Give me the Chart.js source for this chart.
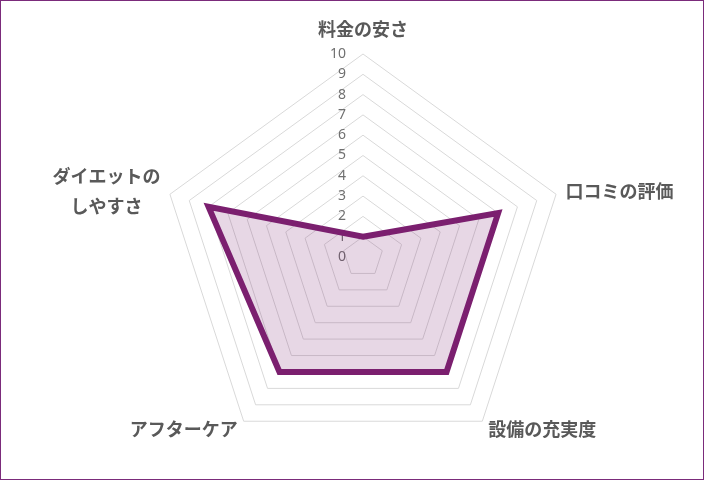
<!DOCTYPE html>
<html>
<head>
<meta charset="utf-8">
<script src="https://cdn.jsdelivr.net/npm/chart.js@4.4.1/dist/chart.umd.min.js"></script>
<style>
  html, body { margin: 0; padding: 0; background: #fff; }
  #frame { width: 704px; height: 480px; box-sizing: border-box; border: 1px solid #7b2b7b; position: relative; }
  #wrap { position: absolute; left: 0; top: 0; width: 702px; height: 478px; }
</style>
</head>
<body>
<div id="frame"><div id="wrap"><canvas id="RadarScore"></canvas></div></div>
<script>
var categories = ['料金の安さ', '口コミの評価', '設備の充実度', 'アフターケア', ['ダイエットの', 'しやすさ']];
var scores = [1, 7, 7, 7, 8];
var tickLabels = ['0', '1', '2', '3', '4', '5', '6', '7', '8', '9', '10'];

(function () {
  'use strict';
  var ctx, chartRadar, labelPlugin;

  // ticks left of the vertical axis and category labels beside the outer corners,
  // both placed from the radial scale
  labelPlugin = {
    id: 'radarText',
    beforeDatasetsDraw: function (chart) {
      var scale = chart.scales.r, c = chart.ctx, i, y;
      c.save();
      c.font = '14px "Noto Sans", "DejaVu Sans", sans-serif';
      c.fillStyle = '#707070';
      c.textAlign = 'right';
      c.textBaseline = 'middle';
      for (i = 0; i < tickLabels.length; i++) {
        y = scale.yCenter - scale.getDistanceFromCenterForValue(Number(tickLabels[i]));
        c.fillText(tickLabels[i], scale.xCenter - 17, y);
      }
      c.restore();
    },
    afterDraw: function (chart) {
      var scale = chart.scales.r, c = chart.ctx, lineH = 30, i, j, p, lines, maxW, x, y0;
      c.save();
      c.font = 'bold 18px "Noto Sans CJK JP", sans-serif';
      c.fillStyle = '#595959';
      c.textBaseline = 'middle';
      c.textAlign = 'center';
      for (i = 0; i < categories.length; i++) {
        lines = [].concat(categories[i]);
        p = scale.getPointPosition(i, scale.drawingArea + 10);
        maxW = 0;
        for (j = 0; j < lines.length; j++) {
          maxW = Math.max(maxW, c.measureText(lines[j]).width);
        }
        if (p.x > scale.xCenter + 1) {
          x = p.x + maxW / 2;
        } else if (p.x < scale.xCenter - 1) {
          x = p.x - maxW / 2;
        } else {
          x = p.x;
        }
        if (Math.abs(p.x - scale.xCenter) <= 1) {
          y0 = p.y - lines.length * lineH + lineH / 2;
        } else {
          y0 = p.y - (lines.length - 1) * lineH / 2;
        }
        for (j = 0; j < lines.length; j++) {
          c.fillText(lines[j], x, y0 + j * lineH);
        }
      }
      c.restore();
    }
  };

  ctx = document.getElementById('RadarScore');
  chartRadar = new Chart(ctx, {
    type: 'radar',
    data: {
      labels: categories,
      datasets: [{
        label: 'score',
        data: scores,
        borderColor: 'rgb(123, 31, 111)',
        backgroundColor: 'rgba(123, 31, 111, 0.18)',
        borderWidth: 6,
        borderJoinStyle: 'miter',
        pointRadius: 0,
        fill: true
      }]
    },
    options: {
      responsive: true,
      maintainAspectRatio: false,
      animation: false,
      layout: { padding: { top: 53, bottom: 19, left: 22, right: 0 } },
      plugins: { legend: { display: false }, tooltip: { enabled: false } },
      scales: {
        r: {
          min: 0,
          max: 10,
          ticks: { stepSize: 1, display: false },
          angleLines: { display: false },
          grid: { color: '#d9d9d9', lineWidth: 1 },
          pointLabels: { display: false }
        }
      }
    },
    plugins: [labelPlugin]
  });

  chartRadar.update();
})();
</script>
</body>
</html>
